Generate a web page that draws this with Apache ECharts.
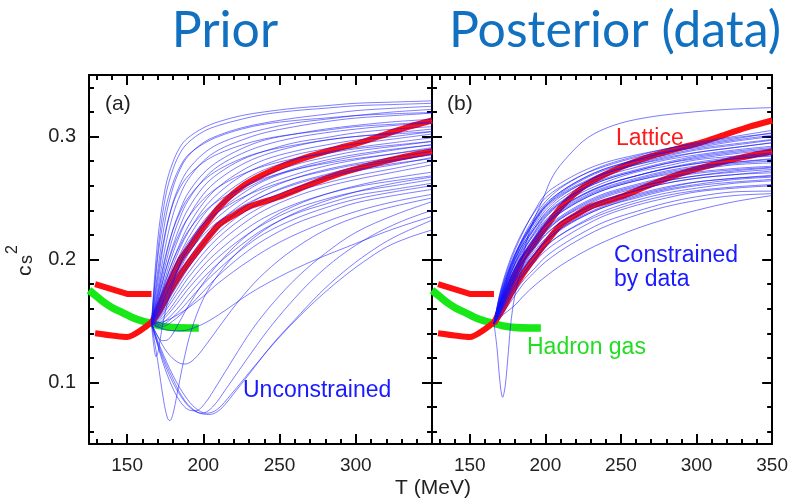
<!DOCTYPE html>
<html><head><meta charset="utf-8">
<script src="https://cdn.jsdelivr.net/npm/echarts@6/dist/echarts.min.js"></script>
<style>html,body{margin:0;padding:0;background:#fff}#c{width:791px;height:501px}</style>
</head><body><div id="c"></div>
<script>
// ---------------- data ----------------
const xMin = 125, xMax = 350, yMin = 0.05, yMax = 0.35;
const xMajorTicks = [150, 200, 250, 300, 350];
const xMinorTicks = [130,140,160,170,180,190,210,220,230,240,260,270,280,290,310,320,330,340];
const yMajorTicks = [0.1, 0.2, 0.3];
const yMinorTicks = [0.06,0.08,0.12,0.14,0.16,0.18,0.22,0.24,0.26,0.28,0.32,0.34];
const xLabelsA = [150, 200, 250, 300];
const xLabelsB = [150, 200, 250, 300, 350];
const yLabels = [0.1, 0.2, 0.3];

// Lattice (red)
const latticeLowA = [[129,0.180],[150,0.172],[166,0.172]];
const latticeLowB = [[129,0.140],[150,0.137],[166,0.149]];
const latticeUpper = [[166,0.148],[172,0.165],[178,0.182],[185,0.200],[192,0.212],[200,0.226],[210,0.242],[220,0.254],[230,0.263],[250,0.275],[270,0.284],[290,0.291],[300,0.294],[320,0.302],[335,0.308],[350,0.313]];
const latticeLower = [[166,0.148],[172,0.160],[178,0.174],[185,0.188],[192,0.200],[200,0.213],[210,0.228],[220,0.236],[230,0.243],[250,0.251],[270,0.261],[290,0.270],[310,0.277],[330,0.283],[350,0.288]];
// Hadron gas (green)
const hadronGas = [[125,0.175],[130,0.170],[135,0.165],[140,0.161],[145,0.158],[150,0.155],[155,0.152],[160,0.150],[166,0.148],[172,0.146],[180,0.1447],[190,0.1443],[197,0.1443]];

// Prior (panel a) sampled curves on a common T grid
const priorT = [166,170,175,180,185,190,200,210,225,240,260,280,300,325,350];
const priorCurves = [
 [.148,.215,.258,.279,.292,.299,.307,.312,.317,.320,.323,.325,.327,.328,.329],
 [.148,.205,.250,.273,.287,.295,.304,.309,.314,.318,.321,.323,.325,.326,.327],
 [.148,.190,.232,.258,.274,.284,.295,.301,.307,.311,.315,.318,.321,.323,.3246],
 [.148,.180,.220,.246,.262,.273,.286,.294,.301,.306,.311,.314,.317,.320,.322],
 [.148,.175,.210,.236,.253,.265,.280,.289,.297,.303,.308,.312,.315,.317,.319],
 [.148,.170,.200,.224,.241,.254,.270,.280,.290,.297,.302,.306,.309,.312,.314],
 [.148,.168,.195,.218,.235,.248,.265,.276,.286,.293,.299,.303,.306,.309,.311],
 [.148,.165,.190,.211,.228,.241,.259,.270,.281,.288,.295,.299,.303,.306,.308],
 [.148,.163,.185,.205,.221,.234,.253,.265,.277,.285,.292,.297,.300,.303,.306],
 [.148,.161,.181,.199,.214,.227,.246,.259,.272,.281,.288,.293,.297,.300,.304],
 [.148,.160,.178,.195,.210,.222,.241,.254,.268,.277,.285,.290,.294,.298,.302],
 [.148,.158,.175,.191,.205,.217,.236,.249,.263,.273,.281,.287,.291,.295,.299],
 [.148,.157,.172,.187,.200,.212,.231,.244,.258,.268,.277,.283,.288,.292,.296],
 [.148,.156,.170,.184,.197,.208,.226,.239,.253,.264,.273,.279,.284,.289,.2935],
 [.148,.155,.168,.181,.193,.204,.222,.235,.249,.260,.269,.276,.281,.286,.291],
 [.148,.154,.166,.178,.190,.200,.217,.230,.245,.256,.266,.273,.278,.283,.288],
 [.148,.153,.164,.175,.186,.196,.213,.226,.241,.252,.262,.269,.275,.280,.2855],
 [.148,.152,.162,.173,.183,.193,.209,.222,.237,.248,.258,.266,.272,.277,.283],
 [.148,.151,.160,.170,.180,.189,.205,.218,.233,.244,.255,.262,.268,.274,.280],
 [.148,.150,.158,.167,.176,.185,.200,.213,.228,.240,.251,.259,.265,.271,.277],
 [.148,.149,.155,.163,.172,.180,.195,.207,.222,.234,.245,.253,.259,.264,.268],
 [.148,.148,.153,.160,.168,.176,.190,.202,.217,.229,.241,.249,.255,.260,.265],
 [.148,.147,.150,.156,.163,.171,.185,.197,.212,.225,.237,.245,.252,.257,.262],
 [.148,.146,.148,.153,.159,.166,.180,.192,.208,.221,.233,.242,.249,.255,.260],
 [.148,.145,.146,.150,.155,.161,.174,.187,.203,.216,.229,.238,.246,.252,.257],
 [.148,.200,.240,.262,.276,.285,.294,.300,.306,.310,.313,.315,.317,.3185,.3195],
 [.148,.185,.222,.245,.259,.268,.279,.286,.293,.298,.302,.305,.308,.310,.312],
 [.148,.172,.202,.224,.239,.250,.264,.273,.282,.288,.293,.297,.300,.302,.304],
 [.148,.166,.190,.209,.223,.234,.249,.259,.269,.276,.282,.286,.290,.293,.296],
 [.148,.162,.182,.199,.212,.223,.238,.248,.258,.266,.273,.278,.282,.286,.290],
 [.148,.159,.176,.191,.203,.214,.229,.239,.250,.258,.266,.272,.277,.281,.285],
 [.148,.156,.170,.183,.195,.205,.220,.231,.243,.252,.261,.268,.273,.278,.282]
];
// Prior curves with dips / irregular shapes, as [T, cs2] pairs
const priorDips = [
 [[166,.148],[170,.118],[174,.085],[176.5,.071],[178,.069],[180,.074],[183,.092],[187,.117],[192,.142],[200,.168],[210,.188],[225,.209],[245,.228],[270,.243],[300,.255],[325,.262],[350,.267]],
 [[166,.148],[172,.128],[180,.106],[188,.089],[195,.079],[202,.075],[209,.078],[218,.090],[230,.108],[245,.130],[260,.150],[275,.168],[290,.184],[305,.198],[320,.210],[335,.218],[350,.224]],
 [[166,.148],[172,.126],[180,.103],[188,.085],[196,.076],[204,.074],[211,.078],[220,.091],[232,.110],[246,.132],[260,.151],[276,.172],[292,.190],[308,.205],[325,.218],[350,.232]],
 [[166,.148],[172,.124],[180,.100],[188,.084],[194,.077],[199,.075],[206,.080],[215,.095],[228,.118],[242,.142],[256,.163],[272,.184],[290,.203],[310,.219],[330,.231],[350,.240]],
 [[166,.148],[172,.122],[178,.101],[184,.086],[190,.078],[195,.077],[201,.083],[209,.098],[220,.120],[232,.143],[246,.165],[262,.186],[280,.205],[300,.222],[325,.236],[350,.247]],
 [[166,.148],[172,.133],[178,.122],[184,.116],[188,.115],[194,.119],[202,.131],[212,.148],[225,.169],[240,.189],[260,.209],[285,.227],[315,.240],[350,.250]],
 [[166,.148],[169,.140],[173,.134],[177,.135],[182,.144],[190,.162],[200,.181],[213,.201],[230,.221],[252,.239],[280,.253],[315,.264],[350,.271]],
 [[166,.148],[167.5,.130],[169,.121],[170.5,.126],[173,.145],[178,.172],[186,.200],[196,.222],[210,.242],[230,.259],[255,.272],[285,.282],[320,.289],[350,.293]],
 [[166,.148],[175,.143],[185,.142],[197,.146],[210,.155],[230,.172],[250,.186],[272,.199],[300,.213],[325,.225],[350,.235]],
 [[166,.148],[175,.150],[187,.158],[200,.170],[210,.181],[230,.199],[250,.214],[275,.228],[300,.239],[325,.247],[350,.253]]
];

// Posterior (panel b) sampled curves on a common T grid
const postT = [166,170,175,180,186,193,200,210,225,240,260,280,300,325,350];
const postCurves = [
 [.148,.172,.192,.208,.224,.240,.253,.262,.272,.279,.285,.290,.295,.300,.305],
 [.148,.168,.188,.204,.220,.235,.247,.258,.269,.277,.284,.290,.294,.299,.3025],
 [.148,.170,.189,.204,.218,.232,.244,.255,.266,.274,.281,.287,.291,.296,.300],
 [.148,.165,.184,.200,.216,.231,.243,.254,.265,.273,.280,.285,.290,.294,.2976],
 [.148,.167,.185,.200,.214,.228,.240,.251,.262,.270,.277,.283,.287,.291,.2948],
 [.148,.163,.181,.197,.212,.226,.238,.249,.260,.268,.275,.281,.285,.289,.2921],
 [.148,.166,.183,.197,.210,.223,.235,.246,.257,.265,.272,.278,.283,.287,.290],
 [.148,.162,.179,.194,.208,.222,.234,.245,.255,.263,.271,.276,.281,.284,.2867],
 [.148,.164,.180,.193,.206,.219,.231,.242,.253,.261,.268,.274,.278,.282,.284],
 [.148,.160,.176,.190,.204,.218,.230,.240,.251,.259,.266,.272,.276,.279,.2813],
 [.148,.163,.178,.191,.203,.215,.227,.238,.249,.257,.264,.269,.273,.277,.2786],
 [.148,.159,.174,.187,.200,.213,.225,.235,.246,.254,.261,.267,.271,.274,.2759],
 [.148,.161,.176,.188,.200,.211,.222,.233,.244,.252,.259,.264,.268,.271,.2732],
 [.148,.158,.172,.185,.197,.209,.220,.230,.241,.249,.256,.262,.266,.269,.2705],
 [.148,.160,.173,.185,.196,.207,.217,.227,.238,.246,.253,.259,.263,.266,.2678],
 [.148,.157,.170,.182,.193,.204,.214,.224,.235,.243,.250,.256,.260,.263,.2651],
 [.148,.158,.170,.180,.190,.200,.210,.220,.230,.238,.246,.252,.256,.259,.261],
 [.148,.155,.165,.174,.184,.193,.202,.211,.222,.231,.239,.246,.251,.255,.2556],
 [.148,.153,.158,.163,.171,.179,.186,.195,.206,.215,.225,.233,.240,.247,.252],
 [.148,.171,.190,.205,.219,.233,.245,.255,.266,.274,.281,.287,.292,.297,.301],
 [.148,.166,.186,.202,.217,.230,.242,.252,.262,.270,.277,.282,.287,.291,.295],
 [.148,.169,.187,.201,.214,.226,.237,.247,.258,.266,.273,.279,.284,.288,.291],
 [.148,.164,.182,.196,.209,.221,.232,.242,.253,.261,.268,.274,.279,.283,.2855],
 [.148,.162,.178,.192,.205,.217,.228,.238,.249,.257,.264,.270,.274,.278,.280],
 [.148,.165,.181,.193,.204,.214,.224,.234,.245,.253,.260,.266,.270,.273,.275],
 [.148,.161,.175,.187,.199,.210,.220,.230,.240,.248,.256,.262,.266,.269,.272],
 [.148,.159,.173,.184,.195,.205,.215,.225,.236,.244,.252,.258,.263,.266,.2685],
 [.148,.156,.168,.179,.190,.201,.211,.220,.231,.240,.248,.254,.258,.262,.264],
 [.148,.157,.167,.177,.188,.198,.207,.216,.227,.236,.244,.250,.255,.258,.260],
 [.148,.154,.162,.171,.181,.190,.198,.207,.218,.227,.236,.243,.248,.252,.2535],
 [.148,.173,.194,.210,.225,.239,.250,.259,.269,.276,.283,.288,.293,.298,.303],
 [.148,.167,.187,.203,.218,.232,.243,.253,.263,.271,.278,.284,.289,.293,.297],
 [.148,.164,.183,.198,.212,.225,.236,.246,.257,.265,.272,.278,.282,.286,.289],
 [.148,.162,.179,.193,.206,.218,.229,.239,.250,.258,.265,.271,.275,.279,.282],
 [.148,.160,.176,.189,.201,.212,.223,.233,.243,.251,.258,.264,.268,.272,.2745],
 [.148,.158,.171,.183,.194,.205,.215,.225,.235,.243,.251,.257,.261,.265,.267]
];
const postExtra = [
 [[166,.148],[172,.165],[178,.180],[185,.203],[190,.225],[198,.248],[205,.268],[215,.284],[228,.299],[245,.309],[265,.315],[290,.319],[320,.322],[350,.3235]],
 [[166,.148],[168,.128],[170,.100],[171.7,.088],[173.5,.098],[175.5,.125],[177.5,.152],[181,.178],[186,.198],[192,.214],[200,.228],[215,.245],[235,.258],[260,.268],[290,.276],[320,.281],[350,.285]]
];

// ---------------- chart ----------------
const FONT = '"Liberation Sans", Arial, Helvetica, sans-serif';
const chart = echarts.init(document.getElementById('c'), null, {renderer: 'canvas'});
const grids = [
  {left: 89, top: 75, width: 343, height: 369},
  {left: 432, top: 75, width: 342, height: 369}
];
function tickAxis(kind, grid, position, ticks, len, labels, showLine) {
  return {
    gridIndex: grid, type: 'value', position: position,
    min: kind === 'x' ? xMin : yMin, max: kind === 'x' ? xMax : yMax,
    axisLine: {show: showLine, onZero: false, lineStyle: {color: '#000', width: 2}},
    axisTick: {show: true, inside: true, length: len, customValues: ticks, lineStyle: {color: '#000', width: 2}},
    axisLabel: {show: !!labels, customValues: labels || [], margin: kind === 'x' ? 12 : 13,
      fontSize: kind === 'x' ? 19 : 20, color: '#222', fontFamily: FONT,
      hideOverlap: false, showMinLabel: true, showMaxLabel: true},
    splitLine: {show: false}, silent: true
  };
}
const xAxes = [], yAxes = [];
[0, 1].forEach(g => {
  xAxes.push(tickAxis('x', g, 'bottom', xMajorTicks, 10, g === 0 ? xLabelsA : xLabelsB, true));
  xAxes.push(tickAxis('x', g, 'bottom', xMinorTicks, 5, null, false));
  xAxes.push(tickAxis('x', g, 'top', xMajorTicks, 10, null, true));
  xAxes.push(tickAxis('x', g, 'top', xMinorTicks, 5, null, false));
  yAxes.push(tickAxis('y', g, 'left', yMajorTicks, 10, g === 0 ? yLabels : null, true));
  yAxes.push(tickAxis('y', g, 'left', yMinorTicks, 5, null, false));
  yAxes.push(tickAxis('y', g, 'right', yMajorTicks, 10, null, true));
  yAxes.push(tickAxis('y', g, 'right', yMinorTicks, 5, null, false));
});

const series = [];
function add(g, data, color, width, smooth, z) {
  series.push({
    type: 'line', xAxisIndex: g * 4, yAxisIndex: g * 4, data: data,
    symbol: 'none', showSymbol: false, smooth: smooth, z: z, silent: true,
    lineStyle: {color: color, width: width, cap: 'butt', join: 'round'}, clip: true
  });
}
const GREEN = '#18e818', RED = '#ff1010';
const BLUE_A = 'rgba(20,20,255,0.55)', BLUE_B = 'rgba(15,15,255,0.62)';
[0, 1].forEach(g => {
  add(g, hadronGas, GREEN, 7.5, 0.3, 2);
  add(g, latticeLowA, RED, 6, false, 3);
  add(g, latticeLowB.concat(latticeLower.slice(1)), RED, 6, 0.2, 3);
  add(g, latticeUpper, RED, 6, 0.2, 3);
});
priorCurves.forEach(c => add(0, priorT.map((t, i) => [t, c[i]]), BLUE_A, 1, 0.35, 4));
priorDips.forEach(c => add(0, c, BLUE_A, 1, 0.35, 4));
postCurves.forEach(c => add(1, postT.map((t, i) => [t, c[i]]), BLUE_B, 0.9, 0.35, 4));
postExtra.forEach(c => add(1, c, BLUE_B, 0.9, 0.35, 4));

function txt(x, y, text, size, color, align, family) {
  return {type: 'text', x: x, y: y, silent: true, z: 100,
    style: {text: text, fill: color, fontSize: size, fontFamily: family || FONT, align: align || 'left', verticalAlign: 'middle'}};
}
const TITLE_FONT = 'Lato, "Open Sans", sans-serif';
const graphic = [
  txt(225, 31, 'Prior', 50, '#1170c0', 'center', TITLE_FONT),
  txt(615, 31, 'Posterior (data)', 50, '#1170c0', 'center', TITLE_FONT),
  txt(105, 104, '(a)', 21, '#222'),
  txt(447, 104, '(b)', 21, '#222'),
  txt(243, 391, 'Unconstrained', 23, '#1a1aff'),
  txt(616, 139, 'Lattice', 23, '#ff1a1a'),
  txt(614, 256, 'Constrained', 23, '#1a1aff'),
  txt(614, 280, 'by data', 23, '#1a1aff'),
  txt(527, 348, 'Hadron gas', 23, '#22dd22'),
  txt(433, 488, 'T (MeV)', 21, '#222', 'center'),
  {type: 'group', x: 33, y: 276, rotation: Math.PI / 2, silent: true, children: [
    {type: 'text', x: 0, y: -8, style: {text: 'c', fontSize: 21, fontFamily: FONT, fill: '#222', align: 'left', verticalAlign: 'middle'}},
    {type: 'text', x: 12, y: -6, style: {text: 's', fontSize: 18, fontFamily: FONT, fill: '#222', align: 'left', verticalAlign: 'middle'}},
    {type: 'text', x: 22, y: -20, style: {text: '2', fontSize: 16, fontFamily: FONT, fill: '#222', align: 'left', verticalAlign: 'middle'}}
  ]}
];

chart.setOption({
  animation: false,
  backgroundColor: '#fff',
  grid: grids,
  xAxis: xAxes,
  yAxis: yAxes,
  series: series,
  graphic: graphic
});
</script></body></html>
